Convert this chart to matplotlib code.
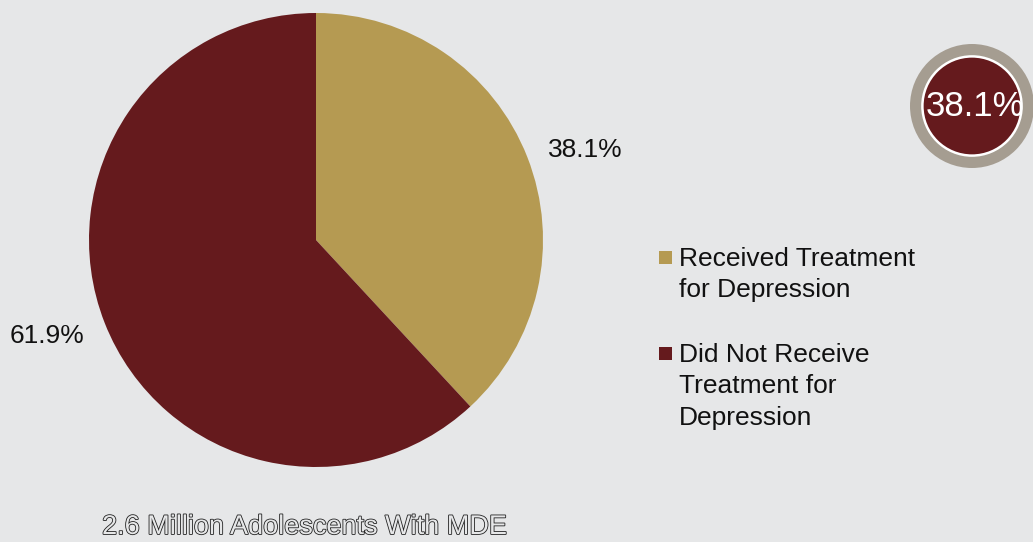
import matplotlib
matplotlib.use('Agg')
import matplotlib.pyplot as plt
import matplotlib.patheffects as pe
from matplotlib.patches import Rectangle, Circle
import numpy as np

# podaci
labels = ['Received Treatment\nfor Depression', 'Did Not Receive\nTreatment for\nDepression']
values = [38.1, 61.9]
colors = ['#b59a52', '#651a1d']
badge_text = '38.1%'
caption = '2.6 Million Adolescents With MDE'

bg = '#e6e7e8'
plt.rcParams['font.family'] = ['Liberation Sans', 'DejaVu Sans']

W, H = 1033, 542
fig = plt.figure(figsize=(W / 100, H / 100), dpi=100, facecolor=bg)

# pita
cx, cy, r = 316, 240, 227
ax = fig.add_axes([(cx - r) / W, (H - cy - r) / H, 2 * r / W, 2 * r / H])
ax.set_facecolor(bg)
wedges, texts, autotexts = ax.pie(values, colors=colors, startangle=90, counterclock=False,
                                  autopct='%.1f%%', pctdistance=1.25, radius=1,
                                  wedgeprops=dict(linewidth=0))
# oznake malo pomerene (kao u originalu)
for w, t in zip(wedges, autotexts):
    mid = np.deg2rad((w.theta1 + w.theta2) / 2 - 2.4)
    t.set_position((1.255 * np.cos(mid), 1.255 * np.sin(mid) - 0.012))
    t.set_fontsize(19)
    t.set_color('#111111')
ax.set_xlim(-1, 1)
ax.set_ylim(-1, 1)
ax.set_aspect('equal')
ax.axis('off')

# legenda
leg_y = [257, 353]
for lab, col, y in zip(labels, colors, leg_y):
    fig.patches.append(Rectangle((659 / W, (H - y - 7) / H), 13 / W, 13 / H,
                                 transform=fig.transFigure, facecolor=col, edgecolor='none'))
    fig.text(679 / W, (H - y + 10) / H, lab, fontsize=19, color='#111111',
             ha='left', va='top', linespacing=1.39)

# znacka
bx, by, br = 972, 106, 62
bax = fig.add_axes([(bx - br) / W, (H - by - br) / H, 2 * br / W, 2 * br / H])
bax.set_xlim(-1, 1)
bax.set_ylim(-1, 1)
bax.set_aspect('equal')
bax.axis('off')
bax.add_patch(Circle((0, 0), 1.0, facecolor='#a59d91', edgecolor='none'))
bax.add_patch(Circle((0, 0), 0.82, facecolor='white', edgecolor='none'))
bax.add_patch(Circle((0, 0), 0.78, facecolor='#651a1d', edgecolor='none'))
bax.text(0.05, 0, badge_text, color='white', fontsize=25, ha='center', va='center')

# natpis
fig.text(305 / W, (H - 527) / H, caption, fontsize=19.5, ha='center', va='center',
         color=bg, path_effects=[pe.withStroke(linewidth=1.2, foreground='#222222')])

fig.savefig('out.png', dpi=100, facecolor=bg)
